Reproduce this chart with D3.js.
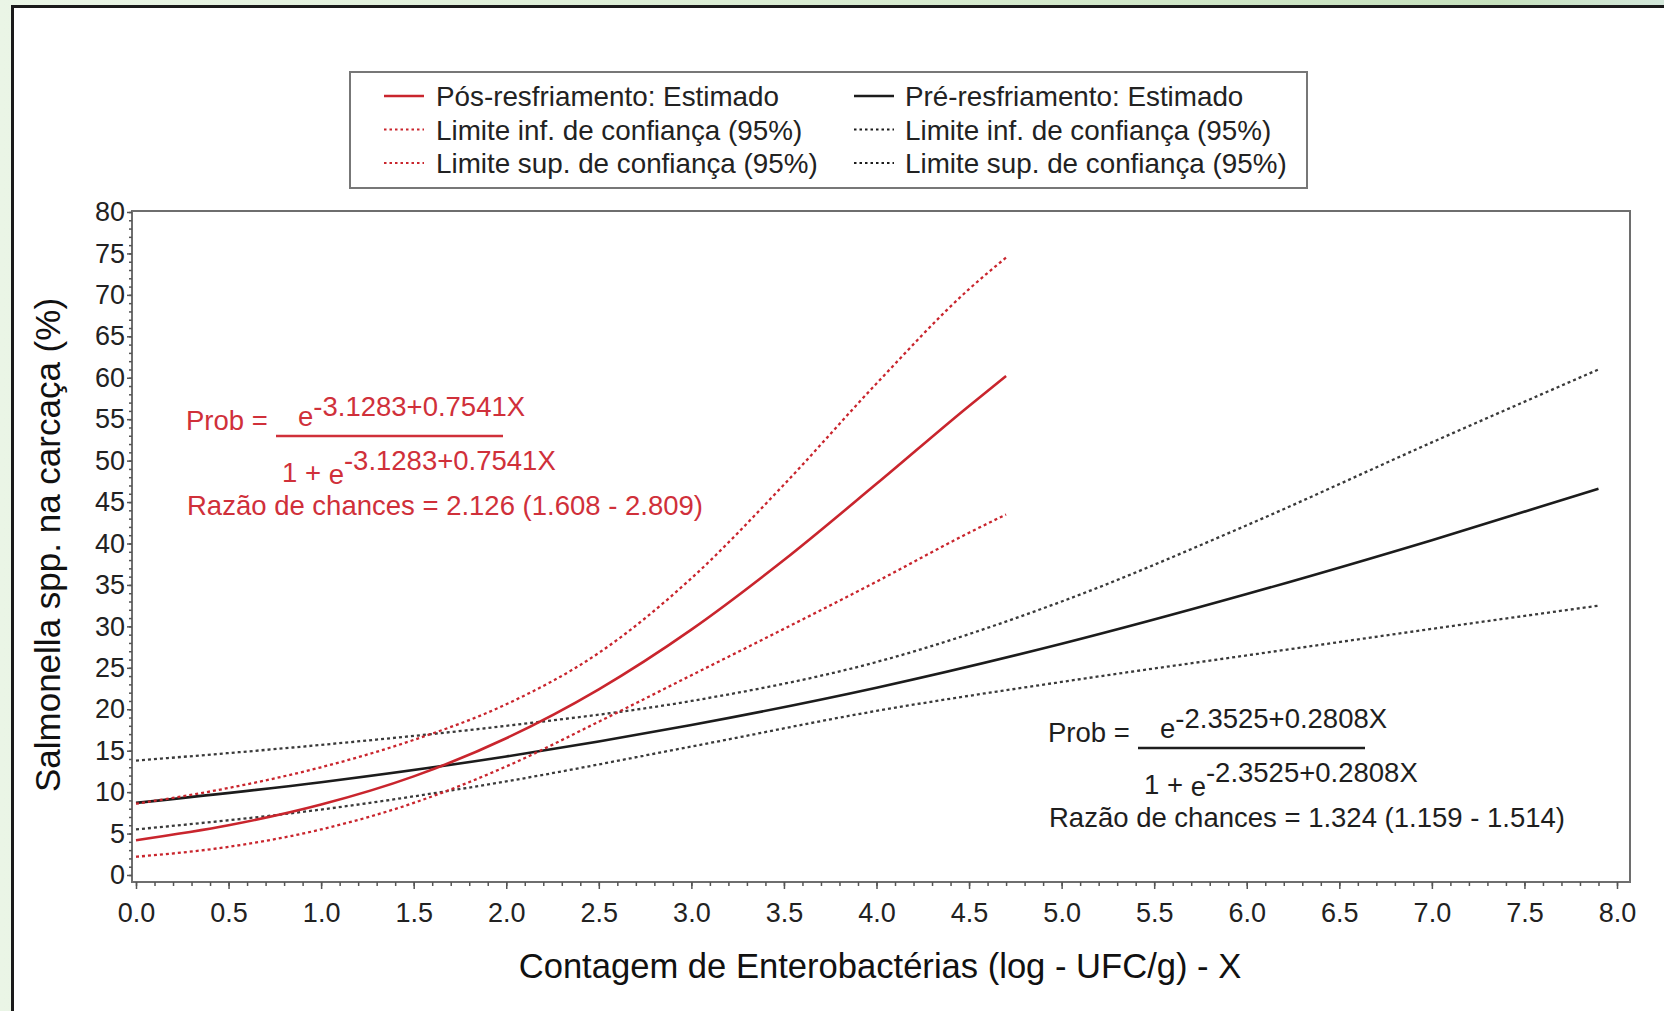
<!DOCTYPE html>
<html>
<head>
<meta charset="utf-8">
<script src="https://cdn.jsdelivr.net/npm/d3@7"></script>
<style>
  body { margin: 0; background: #fff; }
  svg { display: block; font-family: "Liberation Sans", Arial, sans-serif; }
</style>
</head>
<body>
<script>
var width = 1664;
var height = 1011;

// Pós-resfriamento (red)
var xPos = [0, 0.5, 1, 1.5, 2, 2.5, 3, 3.5, 4, 4.5, 4.7];
var posEst = [4.2, 6.0, 8.5, 11.9, 16.5, 22.4, 29.6, 38.0, 47.2, 56.6, 60.2];
var posUpp = [8.6, 10.5, 13.0, 16.3, 20.6, 26.8, 35.8, 47.1, 59.3, 70.7, 74.5];
var posLow = [2.2, 3.4, 5.5, 8.7, 13.1, 18.5, 24.1, 29.7, 35.4, 41.3, 43.5];

// Pré-resfriamento (black)
var xPre = [0, 1, 2, 3, 4, 5, 6, 7, 7.9];
var preEst = [8.7, 11.2, 14.3, 18.1, 22.6, 27.9, 33.9, 40.4, 46.6];
var preUpp = [13.8, 15.7, 18.0, 21.0, 25.7, 33.0, 42.2, 52.2, 61.0];
var preLow = [5.5, 7.9, 11.3, 15.5, 19.8, 23.3, 26.5, 29.7, 32.5];

var xTicks = [0, 0.5, 1, 1.5, 2, 2.5, 3, 3.5, 4, 4.5, 5, 5.5, 6, 6.5, 7, 7.5, 8];
var yTicks = [0, 5, 10, 15, 20, 25, 30, 35, 40, 45, 50, 55, 60, 65, 70, 75, 80];

var legendPos = ["Pós-resfriamento: Estimado", "Limite inf. de confiança (95%)", "Limite sup. de confiança (95%)"];
var legendPre = ["Pré-resfriamento: Estimado", "Limite inf. de confiança (95%)", "Limite sup. de confiança (95%)"];

var posEq = { exp: "-3.1283+0.7541X", odds: "Razão de chances = 2.126 (1.608 - 2.809)" };
var preEq = { exp: "-2.3525+0.2808X", odds: "Razão de chances = 1.324 (1.159 - 1.514)" };

var red = "#c9252d";
var redText = "#d0303a";
var dark = "#1c1c1c";
var darkDot = "#3a3a3a";

var frame = { left: 132, right: 1630, top: 211, bottom: 882 };

var svg = d3.select("body").append("svg")
    .attr("width", width)
    .attr("height", height);

// green page background + black bordered white panel
var grad = svg.append("defs").append("linearGradient")
    .attr("id", "bg").attr("x1", 0).attr("x2", 1).attr("y1", 0).attr("y2", 0);
grad.append("stop").attr("offset", 0).attr("stop-color", "#eaf5e6");
grad.append("stop").attr("offset", 0.6).attr("stop-color", "#d5eacd");
grad.append("stop").attr("offset", 0.9).attr("stop-color", "#c6e1bd");
grad.append("stop").attr("offset", 1).attr("stop-color", "#d3e7da");

svg.append("rect").attr("width", width).attr("height", height).attr("fill", "url(#bg)");
svg.append("rect")
    .attr("x", 12.5).attr("y", 6.5)
    .attr("width", width + 40).attr("height", height + 40)
    .attr("fill", "#fff")
    .attr("stroke", "#1a1a1a")
    .attr("stroke-width", 3);

var x = d3.scaleLinear().domain([0, 8]).range([136, 1617]);
var y = d3.scaleLinear().domain([0, 80]).range([875, 212]);

// plot frame
svg.append("rect")
    .attr("x", frame.left).attr("y", frame.top)
    .attr("width", frame.right - frame.left)
    .attr("height", frame.bottom - frame.top)
    .attr("fill", "none")
    .attr("stroke", "#6e6e6e")
    .attr("stroke-width", 2);

// axes
var xMinor = svg.append("g")
    .attr("transform", "translate(0," + frame.bottom + ")")
    .call(d3.axisBottom(x).tickValues(d3.range(0, 81).map(function(d) { return d / 10; }))
      .tickSize(4).tickFormat(""));
var xAxis = svg.append("g")
    .attr("transform", "translate(0," + frame.bottom + ")")
    .call(d3.axisBottom(x).tickValues(xTicks).tickSize(7).tickPadding(14)
      .tickFormat(d3.format(".1f")));

var yMinor = svg.append("g")
    .attr("transform", "translate(" + frame.left + ",0)")
    .call(d3.axisLeft(y).tickValues(d3.range(0, 81)).tickSize(3).tickFormat(""));
var yAxis = svg.append("g")
    .attr("transform", "translate(" + frame.left + ",0)")
    .call(d3.axisLeft(y).tickValues(yTicks).tickSize(5).tickPadding(2));

[xMinor, xAxis, yMinor, yAxis].forEach(function(g) {
  g.select(".domain").remove();
  g.selectAll("line").attr("stroke", "#555").attr("stroke-width", 1.5);
  g.selectAll("text")
      .attr("font-family", "Liberation Sans, Arial, sans-serif")
      .attr("font-size", 27)
      .attr("fill", "#222");
});

// axis titles
svg.append("text")
    .attr("x", 880).attr("y", 978)
    .attr("text-anchor", "middle")
    .attr("font-size", 34.6)
    .attr("fill", "#111")
    .text("Contagem de Enterobactérias (log - UFC/g) - X");

svg.append("text")
    .attr("transform", "translate(60,545) rotate(-90)")
    .attr("text-anchor", "middle")
    .attr("font-size", 35)
    .attr("fill", "#111")
    .text("Salmonella spp. na carcaça (%)");

// curves
function drawCurve(xs, ys, color, dashed) {
  var line = d3.line()
      .x(function(d, i) { return x(xs[i]); })
      .y(function(d) { return y(d); })
      .curve(d3.curveMonotoneX);
  svg.append("path")
      .datum(ys)
      .attr("d", line)
      .attr("fill", "none")
      .attr("stroke", color)
      .attr("stroke-width", dashed ? 2.3 : 2.6)
      .attr("stroke-dasharray", dashed ? "3,3" : null);
}

drawCurve(xPre, preLow, darkDot, true);
drawCurve(xPre, preUpp, darkDot, true);
drawCurve(xPre, preEst, dark, false);
drawCurve(xPos, posLow, red, true);
drawCurve(xPos, posUpp, red, true);
drawCurve(xPos, posEst, red, false);

// legend
svg.append("rect")
    .attr("x", 350).attr("y", 72)
    .attr("width", 957).attr("height", 116)
    .attr("fill", "#fff")
    .attr("stroke", "#777")
    .attr("stroke-width", 2);

function legendColumn(labels, color, lx, tx) {
  labels.forEach(function(lab, i) {
    var by = 106 + i * 33.5;
    svg.append("line")
        .attr("x1", lx).attr("x2", lx + 40)
        .attr("y1", by - 10).attr("y2", by - 10)
        .attr("stroke", color)
        .attr("stroke-width", i == 0 ? 2.4 : 2)
        .attr("stroke-dasharray", i == 0 ? null : "2.5,3");
    svg.append("text")
        .attr("x", tx).attr("y", by)
        .attr("font-size", 27.8)
        .attr("fill", "#222")
        .text(lab);
  });
}
legendColumn(legendPos, red, 384, 436);
legendColumn(legendPre, dark, 854, 905);

// equations
function equation(eq, px, py, color) {
  var g = svg.append("g").attr("fill", color).attr("font-size", 27.5);
  g.append("text").attr("x", px).attr("y", py).text("Prob =");
  var num = g.append("text").attr("x", px + 112).attr("y", py - 4);
  num.append("tspan").text("e");
  num.append("tspan").attr("dy", -10).text(eq.exp);
  g.append("line")
      .attr("x1", px + 90).attr("x2", px + 317)
      .attr("y1", py + 6).attr("y2", py + 6)
      .attr("stroke", color).attr("stroke-width", 2.5);
  var den = g.append("text").attr("x", px + 96).attr("y", py + 52);
  den.append("tspan").text("1 + ");
  den.append("tspan").attr("dy", 2).text("e");
  den.append("tspan").attr("dy", -14).text(eq.exp);
  g.append("text").attr("x", px + 1).attr("y", py + 85).text(eq.odds);
}
equation(posEq, 186, 430, redText);
equation(preEq, 1048, 742, "#1e1e1e");
</script>
</body>
</html>
